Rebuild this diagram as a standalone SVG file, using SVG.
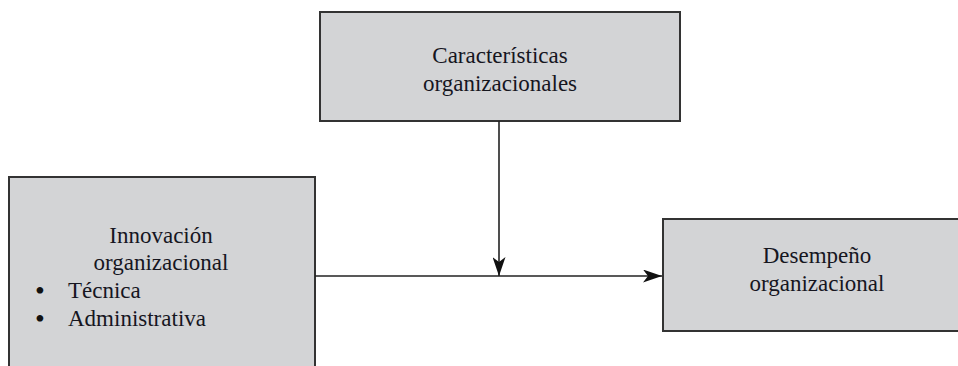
<svg xmlns="http://www.w3.org/2000/svg" width="958" height="366" viewBox="0 0 958 366">
  <style>
    .box { fill: #d3d4d6; stroke: #333333; stroke-width: 2; }
    .lbl { font-family: "Liberation Serif", "Times New Roman", serif; font-size: 23px; fill: #16161f; }
    .c { text-anchor: middle; }
    .bul { font-family: "Liberation Serif", "Times New Roman", serif; font-size: 28px; fill: #111111; }
    .edge { stroke: #222222; stroke-width: 1.6; fill: none; }
  </style>
  <defs>
    <marker id="arr" viewBox="0 0 19 13" refX="19" refY="6.5" markerWidth="19" markerHeight="13" markerUnits="userSpaceOnUse" orient="auto">
      <path d="M0,0 L19,6.5 L0,13 L5,6.5 Z" fill="#111111"/>
    </marker>
  </defs>
  <rect width="958" height="366" fill="#ffffff"/>
  <g id="node-caracteristicas">
    <rect class="box" x="320" y="12" width="360" height="109"/>
    <text class="lbl c" x="500" y="63">Características</text>
    <text class="lbl c" x="500" y="91">organizacionales</text>
  </g>
  <g id="node-innovacion">
    <rect class="box" x="9" y="177" width="306" height="200"/>
    <text class="lbl c" x="161" y="243">Innovación</text>
    <text class="lbl c" x="161" y="270">organizacional</text>
    <text class="bul" x="35" y="300">•</text>
    <text class="lbl" x="68" y="298">Técnica</text>
    <text class="bul" x="35" y="328">•</text>
    <text class="lbl" x="68" y="326">Administrativa</text>
  </g>
  <g id="node-desempeno">
    <rect class="box" x="663" y="219" width="310" height="112"/>
    <text class="lbl c" x="817" y="263">Desempeño</text>
    <text class="lbl c" x="817" y="291">organizacional</text>
  </g>
  <g id="connectors">
    <line class="edge" x1="315" y1="276" x2="662" y2="276" marker-end="url(#arr)"/>
    <line class="edge" x1="499" y1="121" x2="499" y2="276" marker-end="url(#arr)"/>
  </g>
</svg>
